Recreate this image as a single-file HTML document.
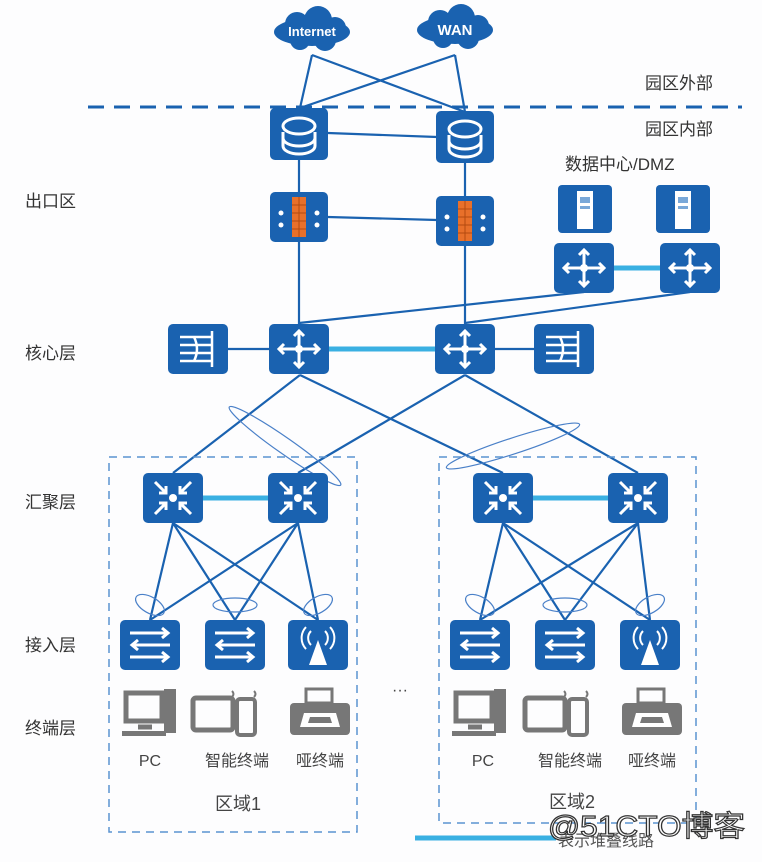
<!DOCTYPE html>
<html><head><meta charset="utf-8"><style>
body{margin:0;background:#fff;}
svg{display:block;font-family:"Liberation Sans","Noto Sans CJK SC",sans-serif;}
</style></head><body>
<svg width="762" height="862" viewBox="0 0 762 862" xmlns="http://www.w3.org/2000/svg">
<rect width="762" height="862" fill="#fdfdfe"/>
<defs>
<g id="sw"><rect x="-30" y="-25" width="60" height="50" rx="5" fill="#1a62b0"/>
<g stroke="#fff" stroke-width="3" fill="none"><path d="M-20 0H20M0 -18V18"/><path d="M-15 -5L-20 0L-15 5M15 -5L20 0L15 5M-5 -13L0 -18L5 -13M-5 13L0 18L5 13"/></g><circle r="4" fill="#fff"/></g>
<g id="agg"><rect x="-30" y="-25" width="60" height="50" rx="5" fill="#1a62b0"/>
<g stroke="#fff" stroke-width="3" fill="none"><path d="M-18 -16L-7 -5M-7 -12V-5H-14M18 -16L7 -5M7 -12V-5H14M-18 16L-7 5M-7 12V5H-14M18 16L7 5M7 12V5H14"/></g><circle r="4" fill="#fff"/></g>
<g id="acc"><rect x="-30" y="-25" width="60" height="50" rx="5" fill="#1a62b0"/>
<g stroke="#fff" stroke-width="3" fill="none"><path d="M-20 -12H18M12 -17L18 -12L12 -7M20 0H-18M-12 -5L-18 0L-12 5M-20 12H18M12 7L18 12L12 17"/></g></g>
<g id="ap"><rect x="-30" y="-25" width="60" height="50" rx="5" fill="#1a62b0"/>
<path d="M0 -5L-9 20H9Z" fill="#fff"/><g stroke="#fff" stroke-width="2" fill="none"><path d="M-7 -14A10 10 0 0 0 -7 0M7 -14A10 10 0 0 1 7 0M-12 -18A16 16 0 0 0 -12 4M12 -18A16 16 0 0 1 12 4"/></g></g>
<g id="rt"><rect x="-29" y="-26" width="58" height="52" rx="5" fill="#1a62b0"/>
<g stroke="#fff" stroke-width="3" fill="none"><ellipse cx="0" cy="-8" rx="16" ry="8"/><path d="M-16 -2V12A16 8 0 0 0 16 12V-2"/><path d="M-16 4A16 8 0 0 0 16 4"/></g></g>
<g id="fw"><rect x="-29" y="-25" width="58" height="50" rx="5" fill="#1a62b0"/>
<rect x="-7" y="-20" width="14" height="40" fill="#e8702a"/><g stroke="#b34a10" stroke-width="1"><path d="M-7 -12H7M-7 -4H7M-7 4H7M-7 12H7M0 -20V20"/></g>
<g fill="#fff"><circle cx="-18" cy="-4" r="2.5"/><circle cx="18" cy="-4" r="2.5"/><circle cx="-18" cy="8" r="2.5"/><circle cx="18" cy="8" r="2.5"/></g></g>
<g id="lb"><rect x="-30" y="-25" width="60" height="50" rx="5" fill="#1a62b0"/>
<g stroke="#fff" stroke-width="2.5" fill="none"><path d="M14 -18V18M-18 -12H14M-18 -4H14M-18 4H14M-18 12H14M-4 -12Q2 0 -4 12"/></g></g>
<g id="srv"><rect x="-27" y="-24" width="54" height="48" rx="4" fill="#1a62b0"/>
<rect x="-8" y="-18" width="16" height="38" fill="#fff"/><rect x="-5" y="-12" width="10" height="6" fill="#7aa8d8"/><rect x="-5" y="-3" width="10" height="3" fill="#7aa8d8"/></g>
<g id="pc" fill="none" stroke="#777" stroke-width="5"><rect x="-26" y="-20" width="36" height="28"/><path d="M-14 14H0" /><rect x="12" y="-24" width="12" height="44" fill="#777" stroke="none"/><rect x="-30" y="18" width="44" height="5" fill="#777" stroke="none"/></g>
<g id="tm"><rect x="-27" y="-18" width="40" height="32" rx="3" fill="none" stroke="#777" stroke-width="5"/><rect x="17" y="-17" width="18" height="36" rx="3" fill="none" stroke="#777" stroke-width="4"/><path d="M12 -25q3 3 0 6M34 -25q3 3 0 6" stroke="#777" stroke-width="2" fill="none"/></g>
<g id="pr"><rect x="-14" y="-24" width="26" height="14" fill="none" stroke="#777" stroke-width="3"/><rect x="-30" y="-10" width="60" height="32" rx="4" fill="#777"/><path d="M-16 0H16L20 14H-20Z" fill="#fff"/><path d="M-10 4H10L12 10H-12Z" fill="#777"/></g>
</defs>

<g fill="none" stroke="#1a62b0" stroke-width="2.2">
<path d="M312 55L300 108M312 55L465 112M455 55L300 108M455 55L465 112"/>
<path d="M328 133L437 137M299 160V193M465 162V197M328 217L437 220M299 242V324M465 245V324"/>
<path d="M299 323L584 292M465 323L690 292"/>
<path d="M227 349H270M493 349H535"/>
<path d="M300 375L173 473M300 375L503 473M465 375L298 473M465 375L638 473"/>
<path d="M173 523L150 620M173 523L235 620M173 523L318 620M298 523L150 620M298 523L235 620M298 523L318 620"/>
<path d="M503 523L480 620M503 523L565 620M503 523L650 620M638 523L480 620M638 523L565 620M638 523L650 620"/>
</g>
<g stroke="#3ab0e2" stroke-width="5"><path d="M328 349H437M612 268H663M203 498H268M533 498H608"/></g>
<g fill="none" stroke="#4a80c8" stroke-width="1.2">
<ellipse cx="285" cy="446" rx="68" ry="8" transform="rotate(35 285 446)"/>
<ellipse cx="513" cy="446" rx="70" ry="8" transform="rotate(-18 513 446)"/>
<ellipse cx="150" cy="605" rx="16" ry="8" transform="rotate(30 150 605)"/>
<ellipse cx="235" cy="605" rx="22" ry="7"/>
<ellipse cx="318" cy="605" rx="16" ry="8" transform="rotate(-30 318 605)"/>
<ellipse cx="480" cy="605" rx="16" ry="8" transform="rotate(30 480 605)"/>
<ellipse cx="565" cy="605" rx="22" ry="7"/>
<ellipse cx="650" cy="605" rx="16" ry="8" transform="rotate(-30 650 605)"/>
</g>
<path d="M88 107H742" stroke="#1a62b0" stroke-width="3" stroke-dasharray="16,10"/>
<g fill="none" stroke="#5b93d0" stroke-width="1.5" stroke-dasharray="8,6">
<rect x="109" y="457" width="248" height="375"/>
<rect x="439" y="457" width="257" height="366"/>
</g>
<g fill="#1a62b0">
<ellipse cx="312" cy="32" rx="38" ry="14"/><circle cx="297" cy="24" r="12"/><circle cx="318" cy="20" r="14"/><circle cx="335" cy="28" r="11"/><circle cx="300" cy="40" r="10"/><circle cx="325" cy="40" r="11"/>
<ellipse cx="455" cy="30" rx="38" ry="14"/><circle cx="440" cy="22" r="12"/><circle cx="461" cy="18" r="14"/><circle cx="478" cy="26" r="11"/><circle cx="443" cy="38" r="10"/><circle cx="468" cy="38" r="11"/>
</g>
<g fill="#fff" font-weight="bold" text-anchor="middle"><text x="312" y="36" font-size="13">Internet</text><text x="455" y="35" font-size="15">WAN</text></g>
<use href="#rt" x="299" y="134"/><use href="#rt" x="465" y="137"/>
<use href="#fw" x="299" y="217"/><use href="#fw" x="465" y="221"/>
<use href="#srv" x="585" y="209"/><use href="#srv" x="683" y="209"/>
<use href="#sw" x="584" y="268"/><use href="#sw" x="690" y="268"/>
<use href="#lb" x="198" y="349"/><use href="#sw" x="299" y="349"/><use href="#sw" x="465" y="349"/><use href="#lb" x="564" y="349"/>
<use href="#agg" x="173" y="498"/><use href="#agg" x="298" y="498"/><use href="#agg" x="503" y="498"/><use href="#agg" x="638" y="498"/>
<use href="#acc" x="150" y="645"/><use href="#acc" x="235" y="645"/><use href="#ap" x="318" y="645"/>
<use href="#acc" x="480" y="645"/><use href="#acc" x="565" y="645"/><use href="#ap" x="650" y="645"/>
<use href="#pc" x="152" y="713"/><use href="#tm" x="220" y="716"/><use href="#pr" x="320" y="713"/>
<use href="#pc" x="482" y="713"/><use href="#tm" x="552" y="716"/><use href="#pr" x="652" y="713"/>
<g fill="#333" font-size="17">
<text x="645" y="89">园区外部</text><text x="645" y="135">园区内部</text><text x="565" y="170">数据中心/DMZ</text>
<text x="25" y="207">出口区</text><text x="25" y="359">核心层</text><text x="25" y="508">汇聚层</text><text x="25" y="651">接入层</text><text x="25" y="734">终端层</text>
</g>
<g fill="#444" font-size="16" text-anchor="middle">
<text x="150" y="766">PC</text><text x="237" y="766">智能终端</text><text x="320" y="766">哑终端</text>
<text x="483" y="766">PC</text><text x="570" y="766">智能终端</text><text x="652" y="766">哑终端</text>
<text x="238" y="810" font-size="18">区域1</text><text x="572" y="808" font-size="18">区域2</text>
<text x="400" y="695" font-size="16">···</text>
</g>
<path d="M415 838H556" stroke="#3ab0e2" stroke-width="5"/>
<text x="558" y="846" font-size="16" fill="#555">表示堆叠线路</text>
<text x="548" y="836" font-size="29" fill="#fff" stroke="#333" stroke-width="1.2" textLength="197" lengthAdjust="spacingAndGlyphs">@51CTO博客</text>
</svg>
</body></html>
